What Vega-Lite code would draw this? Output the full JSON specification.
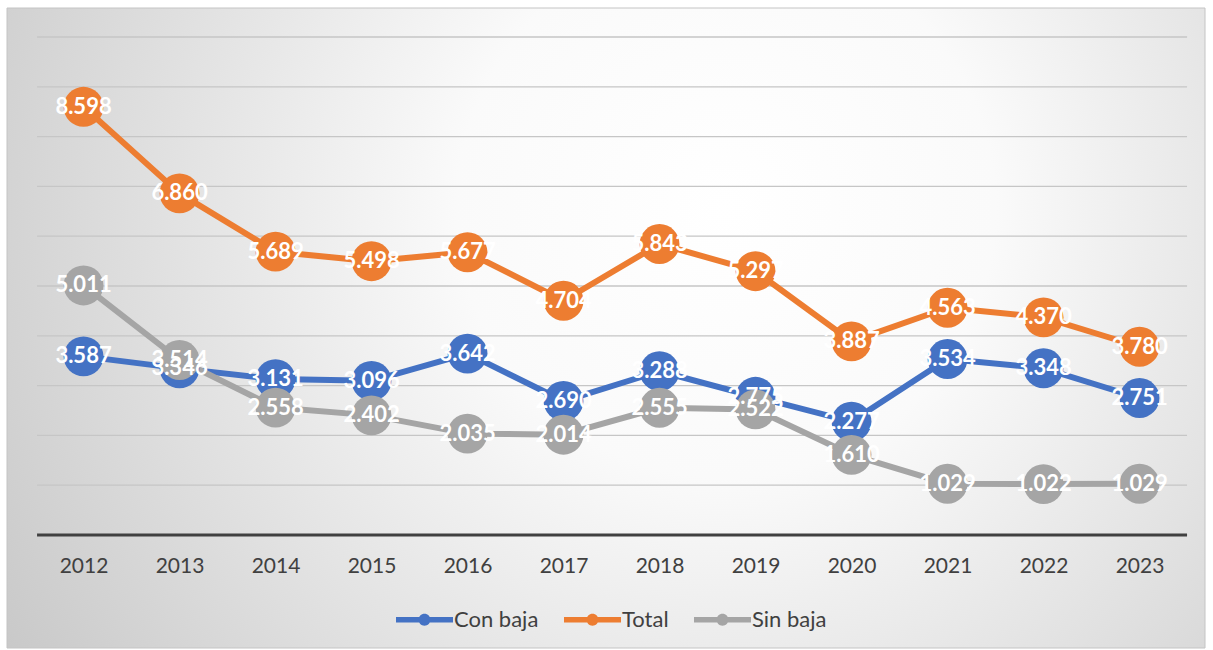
{
  "$schema": "https://vega.github.io/schema/vega-lite/v6.json",
  "autosize": {"type": "none"},
  "width": 1198,
  "height": 640,
  "padding": {"left": 7, "top": 8, "right": 8, "bottom": 2},
  "background": "white",
  "config": {
    "font": "Lato",
    "view": {"stroke": null},
    "locale": {"number": {"decimal": ",", "thousands": ".", "grouping": [3], "currency": ["", " €"]}}
  },
  "datasets": {
    "series": [
      {"year": 2012, "serie": "Con baja", "value": 3587},
      {"year": 2013, "serie": "Con baja", "value": 3346},
      {"year": 2014, "serie": "Con baja", "value": 3131},
      {"year": 2015, "serie": "Con baja", "value": 3096},
      {"year": 2016, "serie": "Con baja", "value": 3642},
      {"year": 2017, "serie": "Con baja", "value": 2690},
      {"year": 2018, "serie": "Con baja", "value": 3288},
      {"year": 2019, "serie": "Con baja", "value": 2775},
      {"year": 2020, "serie": "Con baja", "value": 2277},
      {"year": 2021, "serie": "Con baja", "value": 3534},
      {"year": 2022, "serie": "Con baja", "value": 3348},
      {"year": 2023, "serie": "Con baja", "value": 2751},
      {"year": 2012, "serie": "Total", "value": 8598},
      {"year": 2013, "serie": "Total", "value": 6860},
      {"year": 2014, "serie": "Total", "value": 5689},
      {"year": 2015, "serie": "Total", "value": 5498},
      {"year": 2016, "serie": "Total", "value": 5677},
      {"year": 2017, "serie": "Total", "value": 4704},
      {"year": 2018, "serie": "Total", "value": 5843},
      {"year": 2019, "serie": "Total", "value": 5297},
      {"year": 2020, "serie": "Total", "value": 3887},
      {"year": 2021, "serie": "Total", "value": 4563},
      {"year": 2022, "serie": "Total", "value": 4370},
      {"year": 2023, "serie": "Total", "value": 3780},
      {"year": 2012, "serie": "Sin baja", "value": 5011},
      {"year": 2013, "serie": "Sin baja", "value": 3514},
      {"year": 2014, "serie": "Sin baja", "value": 2558},
      {"year": 2015, "serie": "Sin baja", "value": 2402},
      {"year": 2016, "serie": "Sin baja", "value": 2035},
      {"year": 2017, "serie": "Sin baja", "value": 2014},
      {"year": 2018, "serie": "Sin baja", "value": 2555},
      {"year": 2019, "serie": "Sin baja", "value": 2522},
      {"year": 2020, "serie": "Sin baja", "value": 1610},
      {"year": 2021, "serie": "Sin baja", "value": 1029},
      {"year": 2022, "serie": "Sin baja", "value": 1022},
      {"year": 2023, "serie": "Sin baja", "value": 1029}
    ],
    "grid": [
      {"g": 1000}, {"g": 2000}, {"g": 3000}, {"g": 4000}, {"g": 5000},
      {"g": 6000}, {"g": 7000}, {"g": 8000}, {"g": 9000}, {"g": 10000}
    ],
    "bg": [{"k": 1}]
  },
  "layer": [
    {
      "data": {"name": "bg"},
      "mark": {
        "type": "rect",
        "stroke": "#c4c4c4",
        "strokeWidth": 1,
        "color": {
          "gradient": "radial",
          "x1": 0.6, "y1": 0.4, "r1": 0,
          "x2": 0.6, "y2": 0.4, "r2": 0.75,
          "stops": [
            {"offset": 0, "color": "#ffffff"},
            {"offset": 0.3, "color": "#fafafa"},
            {"offset": 1, "color": "#c4c4c4"}
          ]
        }
      },
      "encoding": {}
    },
    {
      "data": {"name": "grid"},
      "mark": {"type": "rule", "color": "#c6c6c6", "strokeWidth": 1.3},
      "encoding": {
        "x": {"datum": 2011.516, "type": "quantitative", "scale": {"domain": [2011.203, 2023.682], "nice": false, "zero": false}, "axis": {"values": [2012, 2013, 2014, 2015, 2016, 2017, 2018, 2019, 2020, 2021, 2022, 2023], "format": "d", "title": null, "domain": false, "ticks": false, "grid": false, "labelFontSize": 21, "labelColor": "#404040", "labelFont": "Lato", "offset": -93, "labelPadding": 0, "zindex": 2}},
        "x2": {"datum": 2023.495},
        "y": {"field": "g", "type": "quantitative", "scale": {"domain": [-2269, 10582], "nice": false, "zero": false}, "axis": null}
      }
    },
    {
      "data": {"values": [{"z": 0}]},
      "mark": {"type": "rule", "color": "#404040", "strokeWidth": 3},
      "encoding": {
        "x": {"datum": 2011.516, "type": "quantitative"},
        "x2": {"datum": 2023.495},
        "y": {"field": "z", "type": "quantitative"}
      }
    },
    {
      "data": {"name": "series"},
      "mark": {"type": "line", "strokeWidth": 6, "strokeCap": "round", "strokeJoin": "round"},
      "encoding": {
        "x": {"field": "year", "type": "quantitative"},
        "y": {"field": "value", "type": "quantitative"},
        "color": {"field": "serie", "type": "nominal", "title": null, "scale": {"domain": ["Con baja", "Total", "Sin baja"], "range": ["#4472C4", "#ED7D31", "#A5A5A5"]}, "legend": {
          "orient": "none", "legendX": 389, "legendY": 583, "direction": "horizontal", "columns": 3, "zindex": 2,
          "symbolType": "M-1,-0.1 L1,-0.1 L1,0.1 L-1,0.1 Z M-0.21,0 A0.21,0.21 0 1,1 0.21,0 A0.21,0.21 0 1,1 -0.21,0 Z",
          "symbolSize": 3249, "symbolStrokeWidth": 0, "symbolOpacity": 1,
          "labelFontSize": 22, "labelColor": "#404040", "labelFont": "Lato", "labelOffset": 1,
          "columnPadding": 25, "padding": 0,
          "encode": {"symbols": {"update": {"fill": {"scale": "color", "field": "value"}, "strokeWidth": {"value": 0}, "opacity": {"value": 1}}}}
        }}
      }
    },
    {
      "data": {"name": "series"},
      "mark": {"type": "point", "filled": true, "opacity": 1, "size": 1590},
      "encoding": {
        "x": {"field": "year", "type": "quantitative"},
        "y": {"field": "value", "type": "quantitative"},
        "color": {"field": "serie", "type": "nominal"}
      }
    },
    {
      "data": {"name": "series"},
      "mark": {"type": "text", "color": "white", "fontWeight": "bold", "fontSize": 22, "font": "Lato", "baseline": "middle", "align": "center"},
      "encoding": {
        "x": {"field": "year", "type": "quantitative"},
        "y": {"field": "value", "type": "quantitative"},
        "text": {"field": "value", "type": "quantitative", "format": ",d"}
      }
    }
  ]
}
